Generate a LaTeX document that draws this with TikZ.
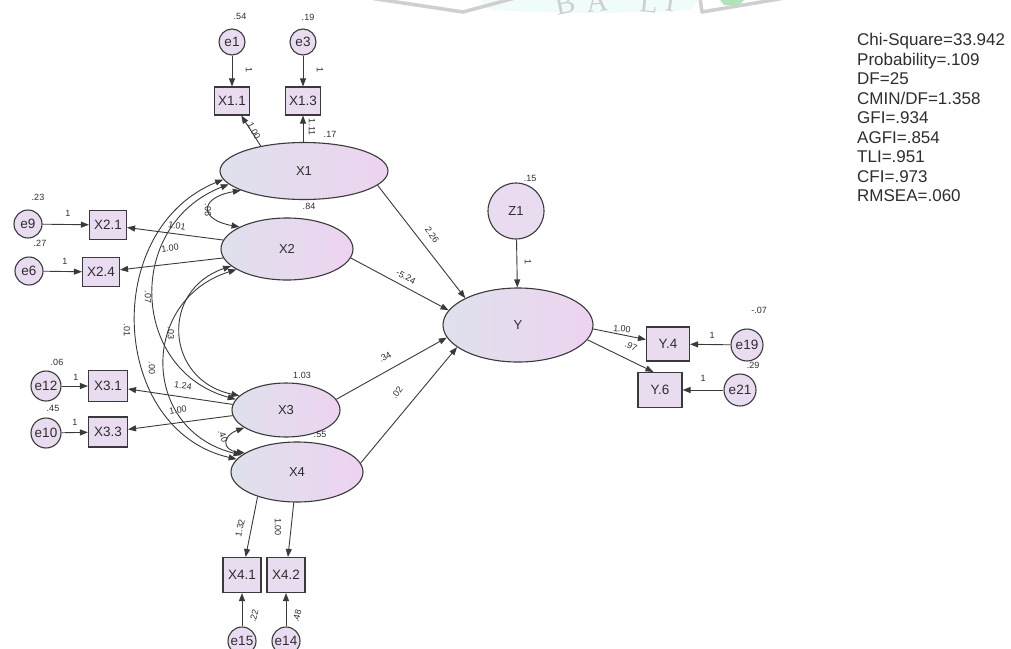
\documentclass[tikz,border=0pt]{standalone}
\usepackage{fontspec}
\setmainfont{Liberation Sans}
\newfontfamily\wmfont{Liberation Serif}
\usetikzlibrary{shapes.geometric,arrows.meta}
\definecolor{bd}{HTML}{3A3A3A}
\definecolor{latL}{HTML}{DFE1EC}
\definecolor{latR}{HTML}{EDD3F0}
\definecolor{obsF}{HTML}{E9DCF0}
\definecolor{tx}{HTML}{2E2E2E}
\definecolor{wmg}{HTML}{CFCFCF}
\definecolor{wmc}{HTML}{F0FCFC}
\definecolor{wmgr}{HTML}{B0E4B8}
\begin{document}
\begin{tikzpicture}[x=1pt,y=-1pt,
  lat/.style={ellipse, draw=bd, line width=1.1pt, left color=latL, right color=latR, inner sep=0pt, text=tx, font=\fontsize{13}{13}\selectfont},
  obs/.style={rectangle, draw=bd, line width=1.1pt, fill=obsF, inner sep=0pt, text=tx, font=\fontsize{13.5}{13.5}\selectfont},
  err/.style={circle, draw=bd, line width=1.1pt, fill=obsF, inner sep=0pt, text=tx, font=\fontsize{13.5}{13.5}\selectfont},
  arr/.style={-{Triangle[length=8pt,width=6pt]}, line width=0.9pt, draw=bd},
  cov/.style={{Triangle[length=8pt,width=6pt]}-{Triangle[length=8pt,width=6pt]}, line width=0.9pt, draw=bd},
  lab/.style={inner sep=0pt, text=tx, font=\fontsize{9}{9}\selectfont},
  wml/.style={inner sep=0pt, text=wmg, font=\wmfont\fontsize{30}{30}\selectfont, anchor=base}
]
\useasboundingbox (0,0) rectangle (1011,648);
\clip (0,0) rectangle (1011,648);
\fill[white] (0,0) rectangle (1011,648);

% watermark (partial seal at the top edge)
\fill[wmc] (480,0) -- (700,0) -- (690,10) .. controls (620,14) and (560,14) .. (490,10) -- cycle;
\draw[wmg, line width=3.5pt, line join=round] (370,-2) -- (463,12) -- (515,-2);
\draw[wmg, line width=3.5pt, line join=round] (700,-2) -- (702,12) -- (785,-2);
\fill[wmgr] (720,0) -- (744,0) -- (738,6) -- (724,5) -- cycle;
\node[wml, rotate=12] (wmB) at (567,13) {B};
\node[wml, rotate=5] (wmA) at (598,12) {A};
\node[wml, rotate=-6] (wmL) at (648,12) {L};
\node[wml, rotate=-10] (wmI) at (669,11) {I};

% latent variables
\node[lat, minimum width=168, minimum height=57] (X1) at (304,171) {X1};
\node[lat, minimum width=132, minimum height=62] (X2) at (287,249) {X2};
\node[lat, minimum width=108, minimum height=54] (X3) at (286,410) {X3};
\node[lat, minimum width=132, minimum height=60] (X4) at (297,472) {X4};
\node[lat, minimum width=150, minimum height=74] (Y) at (518,325) {Y};
\node[err, minimum size=56, font=\fontsize{13}{13}\selectfont] (Z1) at (516,211) {Z1};

% indicators
\node[obs, minimum width=35, minimum height=28] (X11) at (232,101) {X1.1};
\node[obs, minimum width=35, minimum height=28] (X13) at (303,101) {X1.3};
\node[obs, minimum width=37, minimum height=29] (X21) at (108,225) {X2.1};
\node[obs, minimum width=37, minimum height=29] (X24) at (101,272) {X2.4};
\node[obs, minimum width=39, minimum height=31] (X31) at (108,386) {X3.1};
\node[obs, minimum width=39, minimum height=30] (X33) at (108,432) {X3.3};
\node[obs, minimum width=38, minimum height=35] (X41) at (242,575) {X4.1};
\node[obs, minimum width=38, minimum height=35] (X42) at (286,575) {X4.2};
\node[obs, minimum width=43, minimum height=34] (Y4) at (668,344) {Y.4};
\node[obs, minimum width=44, minimum height=35] (Y6) at (660,390) {Y.6};

% error terms
\node[err, minimum size=26] (e1) at (232,42) {e1};
\node[err, minimum size=26] (e3) at (303,42) {e3};
\node[err, minimum size=28] (e9) at (28,224) {e9};
\node[err, minimum size=28] (e6) at (29,271) {e6};
\node[err, minimum size=30] (e12) at (46,386) {e12};
\node[err, minimum size=30] (e10) at (46,433) {e10};
\node[err, minimum size=28] (e15) at (242,641) {e15};
\node[err, minimum size=28] (e14) at (286,641) {e14};
\node[err, minimum size=32] (e19) at (747,345) {e19};
\node[err, minimum size=32] (e21) at (740,390) {e21};

% error arrows
\draw[arr] (e1) -- (X11);
\draw[arr] (e3) -- (X13);
\draw[arr] (e9) -- (X21);
\draw[arr] (e6) -- (X24);
\draw[arr] (e12) -- (X31);
\draw[arr] (e10) -- (X33);
\draw[arr] (e15) -- (X41);
\draw[arr] (e14) -- (X42);
\draw[arr] (e19) -- (Y4);
\draw[arr] (e21) -- (Y6);

% loadings
\draw[arr] (X1.150) -- (X11);
\draw[arr] (X1.north -| X13) -- (X13);
\draw[arr] (X2.172) -- (X21);
\draw[arr] (X2.188) -- (X24);
\draw[arr] (X3.174) -- (X31);
\draw[arr] (X3.186) -- (X33);
\draw[arr] (X4.212) -- (X41);
\draw[arr] (X4.264) -- (X42);
\draw[arr] (Y.-3) -- (Y4);
\draw[arr] (Y.-12) -- (Y6.110);

% structural paths
\draw[arr] (Z1) -- (Y);
\draw[arr] (X1.-11) -- (Y.153);
\draw[arr] (X2.-8) -- (Y.168);
\draw[arr] (X3.12) -- (Y.190);
\draw[arr] (X4.8) -- (Y.200);

% covariances
\draw[cov] (X1.186) .. controls (100,230) and (110,430) .. (X4.168);
\draw[cov] (X1.190) .. controls (125,225) and (130,370) .. (X3.168);
\draw[cov] (X2.197) .. controls (160,290) and (165,380) .. (X3.163);
\draw[cov] (X2.202) .. controls (140,300) and (140,430) .. (X4.163);
\draw[cov] (X1.197) .. controls (198,198) and (200,220) .. (X2.155);
\draw[cov] (X3.203) .. controls (222,436) and (222,450) .. (X4.160);

% variance labels
\node[lab] (ve1) at (240,16) {.54};
\node[lab] (ve3) at (308,17) {.19};
\node[lab] (ve9) at (38,197) {.23};
\node[lab] (ve6) at (40,243) {.27};
\node[lab] (ve12) at (57,362) {.06};
\node[lab] (ve10) at (53,408) {.45};
\node[lab, rotate=75] (ve15) at (254,616) {.22};
\node[lab, rotate=75] (ve14) at (297,616) {.48};
\node[lab] (vZ1) at (530,178) {.15};
\node[lab] (ve19) at (759,310) {-.07};
\node[lab] (ve21) at (753,365) {.29};
\node[lab] (vX1) at (330,134) {.17};
\node[lab] (vX2) at (309,206) {.84};
\node[lab] (vX3) at (302,375) {1.03};
\node[lab] (vX4) at (320,434) {.55};

% weight labels
\node[lab, rotate=-90] (we1) at (249,70) {1};
\node[lab, rotate=-90] (we3) at (320,70) {1};
\node[lab, rotate=-62] (wX11) at (254,131) {1.00};
\node[lab, rotate=-90] (wX13) at (312,127) {1.11};
\node[lab] (we9) at (68,213) {1};
\node[lab] (we6) at (65,261) {1};
\node[lab, rotate=-10] (wX21) at (177,226) {1.01};
\node[lab, rotate=8] (wX24) at (170,248) {1.00};
\node[lab] (we12) at (76,377) {1};
\node[lab] (we10) at (75,422) {1};
\node[lab, rotate=-8] (wX31) at (183,386) {1.24};
\node[lab, rotate=10] (wX33) at (178,410) {1.00};
\node[lab, rotate=77] (wX41) at (240,528) {1.32};
\node[lab, rotate=-90] (wX42) at (278,527) {1.00};
\node[lab, rotate=-90] (wZ1) at (528,262) {1};
\node[lab, rotate=-56] (wX1Y) at (432,235) {2.26};
\node[lab, rotate=-28] (wX2Y) at (406,277) {-5.24};
\node[lab, rotate=30] (wX3Y) at (385,357) {.34};
\node[lab, rotate=55] (wX4Y) at (397,393) {.02};
\node[lab, rotate=-5] (wY4) at (622,329) {1.00};
\node[lab, rotate=-25] (wY6) at (631,346) {.97};
\node[lab] (we19) at (712,335) {1};
\node[lab] (we21) at (703,378) {1};

% covariance labels
\node[lab, rotate=-90] (c12) at (208,210) {.06};
\node[lab, rotate=-90] (c13) at (148,297) {.07};
\node[lab, rotate=-90] (c14) at (127,330) {.01};
\node[lab, rotate=-90] (c23) at (171,333) {.03};
\node[lab, rotate=-90] (c24) at (152,368) {.00};
\node[lab, rotate=-70] (c34) at (223,436) {.40};

% fit statistics
\node[anchor=north west, align=left, inner sep=0pt, text=tx, font=\fontsize{17}{19.5}\selectfont] (fit) at (857,33)
 {Chi-Square=33.942\\Probability=.109\\DF=25\\CMIN/DF=1.358\\GFI=.934\\AGFI=.854\\TLI=.951\\CFI=.973\\RMSEA=.060};
\end{tikzpicture}
\end{document}
